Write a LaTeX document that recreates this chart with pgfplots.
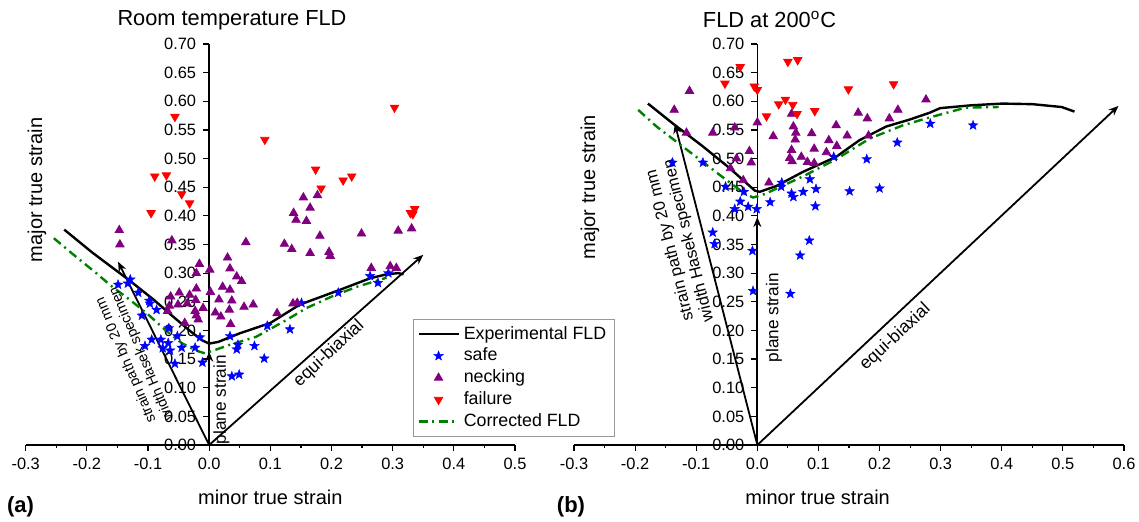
\documentclass[border=0pt]{standalone}
\usepackage{pgfplots}
\pgfplotsset{compat=1.18}
\usepackage{fontspec}
\setmainfont{Liberation Sans}
\usetikzlibrary{arrows.meta}
\definecolor{fldGreen}{RGB}{0,128,0}
\definecolor{fldPurple}{RGB}{128,0,128}

% filled five-pointed star
\pgfdeclareplotmark{fstar}{%
  \pgfpathmoveto{\pgfpointpolar{90}{\pgfplotmarksize}}%
  \pgfpathlineto{\pgfpointpolar{126}{0.42\pgfplotmarksize}}%
  \pgfpathlineto{\pgfpointpolar{162}{\pgfplotmarksize}}%
  \pgfpathlineto{\pgfpointpolar{198}{0.42\pgfplotmarksize}}%
  \pgfpathlineto{\pgfpointpolar{234}{\pgfplotmarksize}}%
  \pgfpathlineto{\pgfpointpolar{270}{0.42\pgfplotmarksize}}%
  \pgfpathlineto{\pgfpointpolar{306}{\pgfplotmarksize}}%
  \pgfpathlineto{\pgfpointpolar{342}{0.42\pgfplotmarksize}}%
  \pgfpathlineto{\pgfpointpolar{18}{\pgfplotmarksize}}%
  \pgfpathlineto{\pgfpointpolar{54}{0.42\pgfplotmarksize}}%
  \pgfpathclose
  \pgfusepathqfillstroke
}

\pgfplotsset{
  fld/.style={
    scale only axis, height=200.5pt, anchor=south west,
    axis x line=bottom, axis y line=center,
    axis line style={-, line width=0.7pt},
    hide obscured x ticks=false, hide obscured y ticks=false,
    ymin=0, ymax=0.70,
    ytick={0,0.05,0.10,0.15,0.20,0.25,0.30,0.35,0.40,0.45,0.50,0.55,0.60,0.65,0.70},
    minor x tick num=1,
    tick align=outside,
    major tick length=3pt, minor tick length=1.7pt,
    tick style={black, line width=0.6pt},
    /pgf/number format/assume math mode=true,
    tick label style={font=\fontsize{8.2}{9}\selectfont},
    xticklabel style={/pgf/number format/.cd, fixed, fixed zerofill, precision=1},
    yticklabel style={/pgf/number format/.cd, fixed, fixed zerofill, precision=2},
    label style={font=\fontsize{9.9}{11}\selectfont},
    legend image code/.code={\draw[mark repeat=2,mark phase=2,#1] plot coordinates {(0pt,0pt) (10pt,0pt) (20pt,0pt)};},
  },
  expfld/.style={black, line width=1.2pt},
  corfld/.style={fldGreen, line width=1.2pt, dash pattern=on 4.5pt off 2.3pt on 1pt off 2.3pt},
  safe/.style={only marks, mark=fstar, mark size=2.5pt, blue, mark options={fill=blue, draw=blue, line width=0.2pt, solid}},
  necking/.style={only marks, mark=triangle*, mark size=2.4pt, fldPurple, mark options={fill=fldPurple, draw=fldPurple}},
  failure/.style={only marks, mark=triangle*, mark size=2.4pt, red, mark options={fill=red, draw=red, rotate=180}},
  path/.style={black, line width=0.9pt, -{Stealth[length=5pt,width=4pt]}, forget plot},
}

\begin{document}
\begin{tikzpicture}
\useasboundingbox (0,0) rectangle (569.5pt,260.5pt);

% (a) room temperature
\begin{axis}[fld,
  at={(12.85pt,38pt)}, width=244.65pt,
  xmin=-0.3, xmax=0.5,
  xtick={-0.3,-0.2,-0.1,0,0.1,0.2,0.3,0.4,0.5},
  xlabel={minor true strain}, ylabel={major true strain},
  every axis x label/.style={at={(rel axis cs:0.5,0)}, anchor=center, yshift=-26pt},
  every axis y label/.style={at={(rel axis cs:0.023,0.636)}, rotate=90, anchor=center},
  legend cell align=left,
  legend style={at={(axis description cs:0.7915,0.02)}, anchor=south west,
    draw=gray!80, line width=0.4pt, fill=white,
    font=\fontsize{8.9}{10}\selectfont, inner xsep=2pt, inner ysep=1.5pt, row sep=-1pt},
]
\addplot[path] coordinates {(0,0) (-0.149,0.320)};
\addplot[path] coordinates {(0,0) (0,0.163)};
\addplot[path] coordinates {(0,0) (0.350,0.332)};

\addplot[expfld] coordinates {
  (-0.237,0.376) (-0.19,0.335) (-0.13,0.287) (-0.09,0.253) (-0.06,0.225)
  (-0.03,0.198) (-0.012,0.183) (0.0,0.177) (0.015,0.180) (0.05,0.195)
  (0.10,0.213) (0.148,0.245) (0.214,0.271) (0.263,0.291) (0.29,0.298)
  (0.309,0.300) (0.318,0.298)};
\addlegendentry{Experimental FLD}

\addplot[safe] coordinates {
  (-0.149,0.280) (-0.133,0.282) (-0.129,0.289) (-0.116,0.266) (-0.098,0.252)
  (-0.097,0.247) (-0.086,0.236) (-0.110,0.226) (-0.066,0.204) (-0.094,0.184)
  (-0.079,0.184) (-0.052,0.190) (-0.067,0.178) (-0.105,0.173) (-0.076,0.169)
  (-0.064,0.165) (-0.045,0.170) (-0.015,0.188) (-0.023,0.170) (-0.056,0.142)
  (-0.011,0.144) (0.034,0.190) (0.045,0.167) (0.047,0.175) (0.074,0.173)
  (0.037,0.120) (0.049,0.123) (0.090,0.151) (0.095,0.208) (0.132,0.202)
  (0.151,0.248) (0.211,0.266) (0.263,0.295) (0.276,0.283) (0.293,0.300)};
\addlegendentry{safe}

\addplot[necking] coordinates {
  (-0.147,0.375) (-0.146,0.350) (-0.061,0.357) (-0.016,0.316) (-0.021,0.300)
  (0.001,0.306) (0.030,0.327) (0.060,0.354) (0.034,0.308) (0.045,0.294)
  (0.053,0.286) (0.022,0.276) (0.034,0.271) (-0.021,0.273) (0.002,0.267)
  (-0.049,0.266) (-0.063,0.259) (-0.032,0.262) (-0.036,0.247) (-0.051,0.245)
  (-0.065,0.243) (0.016,0.254) (0.037,0.252) (-0.022,0.253) (-0.010,0.239)
  (-0.023,0.234) (0.010,0.231) (0.033,0.236) (0.057,0.241) (0.072,0.245)
  (0.019,0.224) (-0.021,0.226) (-0.018,0.219) (0.035,0.211) (-0.068,0.234)
  (-0.040,0.213)
  (0.111,0.230) (0.137,0.247) (0.144,0.248) (0.123,0.351) (0.135,0.342)
  (0.138,0.405) (0.142,0.393) (0.154,0.432) (0.159,0.391) (0.165,0.414)
  (0.177,0.436) (0.181,0.365) (0.165,0.335) (0.196,0.337) (0.198,0.330)
  (0.249,0.369) (0.265,0.309) (0.296,0.312) (0.306,0.309) (0.309,0.374)
  (0.331,0.378)};
\addlegendentry{necking}

\addplot[failure] coordinates {
  (-0.056,0.573) (0.091,0.533) (0.303,0.589) (-0.089,0.469) (-0.070,0.471)
  (-0.045,0.438) (-0.032,0.422) (-0.095,0.405) (0.174,0.481) (0.183,0.448)
  (0.219,0.462) (0.233,0.469) (0.329,0.405) (0.336,0.412) (0.333,0.403)};
\addlegendentry{failure}

\addplot[corfld] coordinates {
  (-0.254,0.361) (-0.225,0.335) (-0.187,0.302) (-0.157,0.275) (-0.129,0.253)
  (-0.10,0.228) (-0.07,0.199) (-0.045,0.178) (-0.022,0.165) (-0.007,0.160)
  (0.007,0.165) (0.034,0.175) (0.077,0.189) (0.126,0.218) (0.159,0.239)
  (0.20,0.259) (0.241,0.276) (0.29,0.292)};
\addlegendentry{Corrected FLD}

\node[rotate=113, align=center, font=\fontsize{7.2}{8.4}\selectfont]
  at (axis cs:-0.123,0.154) {strain path by 20 mm\\width Hasek specimen};
\node[rotate=90, font=\fontsize{8.6}{10}\selectfont] at (axis cs:0.020,0.079) {plane strain};
\node[rotate=43, font=\fontsize{8.8}{10}\selectfont] at (axis cs:0.196,0.159) {equi-biaxial};
\end{axis}

% (b) 200 C
\begin{axis}[fld,
  at={(287pt,38pt)}, width=275pt,
  xmin=-0.3, xmax=0.6,
  xtick={-0.3,-0.2,-0.1,0,0.1,0.2,0.3,0.4,0.5,0.6},
  xlabel={minor true strain}, ylabel={major true strain},
  every axis x label/.style={at={(rel axis cs:0.443,0)}, anchor=center, yshift=-26pt},
  every axis y label/.style={at={(rel axis cs:0.029,0.643)}, rotate=90, anchor=center},
]
\addplot[path] coordinates {(0,0) (-0.135,0.561)};
\addplot[path] coordinates {(0,0) (0,0.398)};
\addplot[path] coordinates {(0,0) (0.591,0.592)};

\addplot[expfld] coordinates {
  (-0.179,0.596) (-0.138,0.561) (-0.09,0.522) (-0.045,0.483) (-0.004,0.444)
  (0.004,0.442) (0.020,0.448) (0.031,0.452) (0.075,0.477) (0.129,0.503)
  (0.167,0.532) (0.211,0.556) (0.249,0.568) (0.282,0.580) (0.299,0.588)
  (0.35,0.593) (0.401,0.596) (0.45,0.595) (0.498,0.590) (0.519,0.582)};

\addplot[safe] coordinates {
  (-0.139,0.493) (-0.089,0.493) (-0.052,0.451) (-0.022,0.442) (-0.028,0.425)
  (-0.037,0.412) (-0.015,0.416) (-0.001,0.412) (0.021,0.424) (0.040,0.458)
  (0.039,0.451) (0.056,0.439) (0.059,0.433) (0.075,0.442) (0.086,0.464)
  (0.096,0.447) (0.095,0.417) (0.125,0.503) (0.151,0.443) (0.179,0.499)
  (0.200,0.448) (0.229,0.528) (0.283,0.561) (0.353,0.558) (-0.073,0.371)
  (-0.070,0.351) (-0.008,0.339) (-0.007,0.269) (0.054,0.264) (0.070,0.331)
  (0.085,0.357)};

\addplot[necking] coordinates {
  (-0.136,0.585) (-0.111,0.618) (-0.116,0.545) (-0.073,0.545) (-0.037,0.554)
  (0.0,0.563) (0.026,0.539) (-0.013,0.513) (-0.034,0.500) (-0.010,0.493)
  (-0.044,0.483) (-0.023,0.462) (0.019,0.458) (0.056,0.578) (0.059,0.556)
  (0.063,0.545) (0.062,0.533) (0.056,0.515) (0.053,0.501) (0.057,0.495)
  (0.072,0.503) (0.082,0.494) (0.093,0.492) (0.093,0.517) (0.089,0.544)
  (0.113,0.511) (0.117,0.532) (0.130,0.522) (0.129,0.558) (0.147,0.540)
  (0.165,0.580) (0.180,0.570) (0.216,0.570) (0.230,0.585) (0.182,0.540)
  (0.276,0.603)};

\addplot[failure] coordinates {
  (-0.028,0.660) (-0.053,0.631) (-0.005,0.626) (0.0,0.620) (0.050,0.669)
  (0.066,0.672) (0.015,0.574) (0.035,0.595) (0.046,0.603) (0.058,0.594)
  (0.065,0.578) (0.094,0.583) (0.149,0.621) (0.223,0.630)};

\addplot[corfld] coordinates {
  (-0.195,0.585) (-0.165,0.556) (-0.10,0.503) (-0.061,0.471) (-0.021,0.439)
  (-0.007,0.432) (0.015,0.439) (0.020,0.442) (0.075,0.469) (0.129,0.499)
  (0.184,0.535) (0.238,0.558) (0.276,0.570) (0.341,0.589) (0.395,0.590)};

\node[rotate=104, align=center, font=\fontsize{8.3}{9.6}\selectfont]
  at (axis cs:-0.127,0.353) {strain path by 20 mm\\width Hasek specimen};
\node[rotate=90, font=\fontsize{8.6}{10}\selectfont] at (axis cs:0.027,0.222) {plane strain};
\node[rotate=43, font=\fontsize{8.8}{10}\selectfont] at (axis cs:0.226,0.188) {equi-biaxial};
\end{axis}

\node[anchor=base, font=\fontsize{10.9}{12}\selectfont] at (116pt,247.75pt) {Room temperature FLD};
\node[anchor=base, font=\fontsize{10.9}{12}\selectfont] at (384.75pt,247pt) {FLD at 200\textsuperscript{o}C};
\node[font=\fontsize{11}{12}\selectfont\bfseries] at (10.3pt,7.2pt) {(a)};
\node[font=\fontsize{11}{12}\selectfont\bfseries] at (285.5pt,7.2pt) {(b)};
\end{tikzpicture}
\end{document}
